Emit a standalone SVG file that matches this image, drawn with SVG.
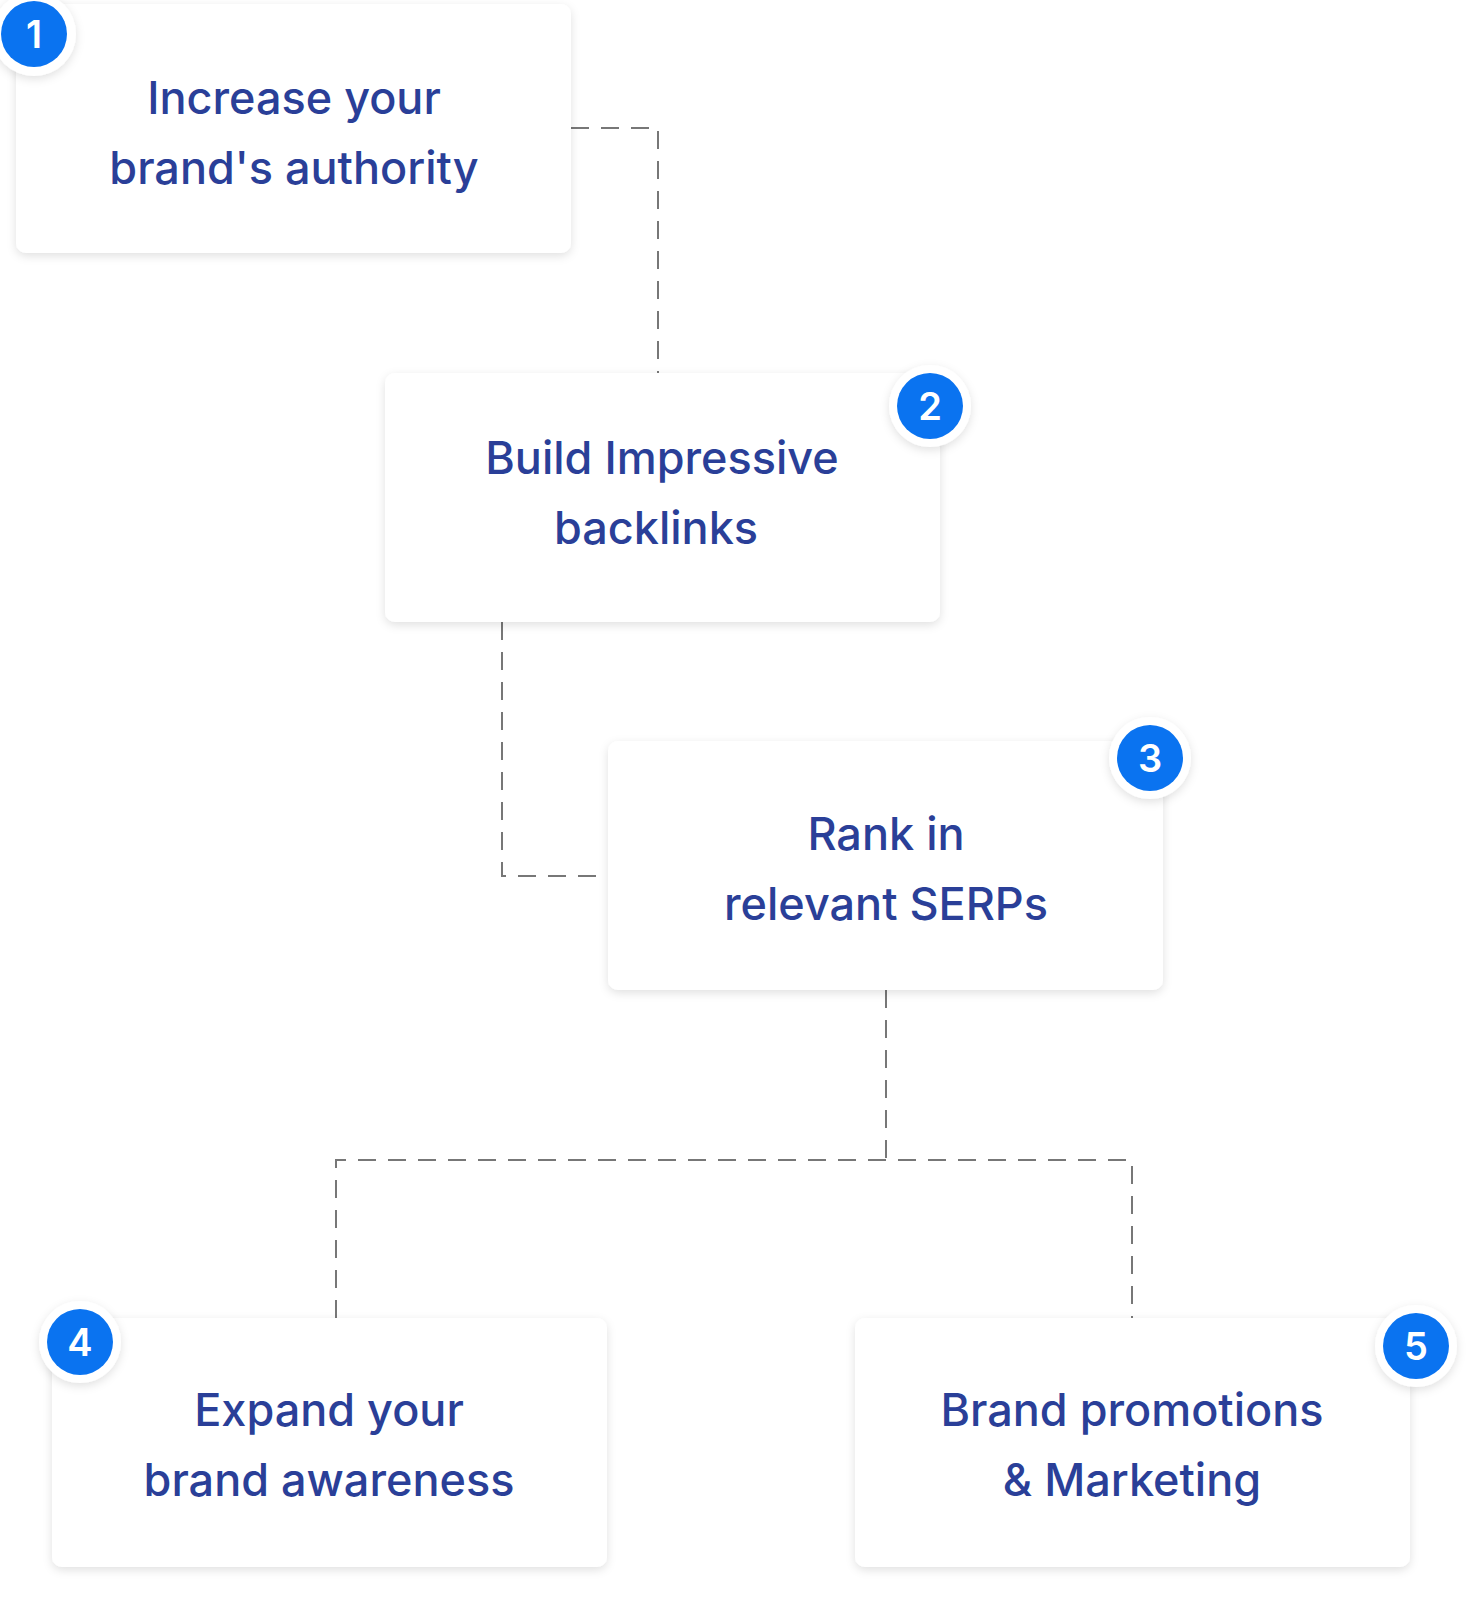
<svg xmlns="http://www.w3.org/2000/svg" width="1480" height="1600" viewBox="0 0 1480 1600">
<defs>
<filter id="sh" x="-10%" y="-10%" width="120%" height="125%"><feDropShadow dx="0" dy="3" stdDeviation="5" flood-color="#000" flood-opacity="0.12"/></filter>
<style>
.box{fill:#fff;filter:url(#sh)}
.t{font-family:Inter,"Noto Sans",sans-serif;font-size:45px;font-weight:500;fill:#2a3f98;text-anchor:middle}
.ring{fill:#fff;filter:url(#sh)}
.b{fill:#0a73f0}
.n{font-family:Inter,sans-serif;font-size:38px;font-weight:600;fill:#fff;text-anchor:middle}
.c{fill:none;stroke:#777;stroke-width:2;stroke-dasharray:18 12}
</style>
</defs>
<rect width="1480" height="1600" fill="#fff"/>
<g id="connectors">
<path class="c" d="M571 128H658V373"/>
<path class="c" d="M502 622V876H608"/>
<path class="c" d="M886 990V1160"/>
<path class="c" d="M336 1318V1160H1132V1318"/>
</g>
<g id="n1"><rect class="box" x="16" y="4" width="555" height="249" rx="10"/>
<text class="t" x="294" y="114">Increase your</text><text class="t" x="294" y="184">brand's authority</text>
<circle class="ring" cx="34" cy="34" r="42"/><circle class="b" cx="34" cy="34" r="33"/><text class="n" x="34" y="48">1</text></g>
<g id="n2"><rect class="box" x="385" y="373" width="555" height="249" rx="10"/>
<text class="t" x="662" y="474">Build Impressive</text><text class="t" x="656" y="544">backlinks</text>
<circle class="ring" cx="930" cy="406" r="41"/><circle class="b" cx="930" cy="406" r="33"/><text class="n" x="930" y="420">2</text></g>
<g id="n3"><rect class="box" x="608" y="741" width="555" height="249" rx="10"/>
<text class="t" x="886" y="850">Rank in</text><text class="t" x="886" y="920">relevant SERPs</text>
<circle class="ring" cx="1150" cy="758" r="41"/><circle class="b" cx="1150" cy="758" r="33"/><text class="n" x="1150" y="772">3</text></g>
<g id="n4"><rect class="box" x="52" y="1318" width="555" height="249" rx="10"/>
<text class="t" x="329" y="1426">Expand your</text><text class="t" x="329" y="1496">brand awareness</text>
<circle class="ring" cx="80" cy="1342" r="41"/><circle class="b" cx="80" cy="1342" r="33"/><text class="n" x="80" y="1356">4</text></g>
<g id="n5"><rect class="box" x="855" y="1318" width="555" height="249" rx="10"/>
<text class="t" x="1132" y="1426">Brand promotions</text><text class="t" x="1132" y="1496">&amp; Marketing</text>
<circle class="ring" cx="1416" cy="1346" r="41"/><circle class="b" cx="1416" cy="1346" r="33"/><text class="n" x="1416" y="1360">5</text></g>
</svg>
